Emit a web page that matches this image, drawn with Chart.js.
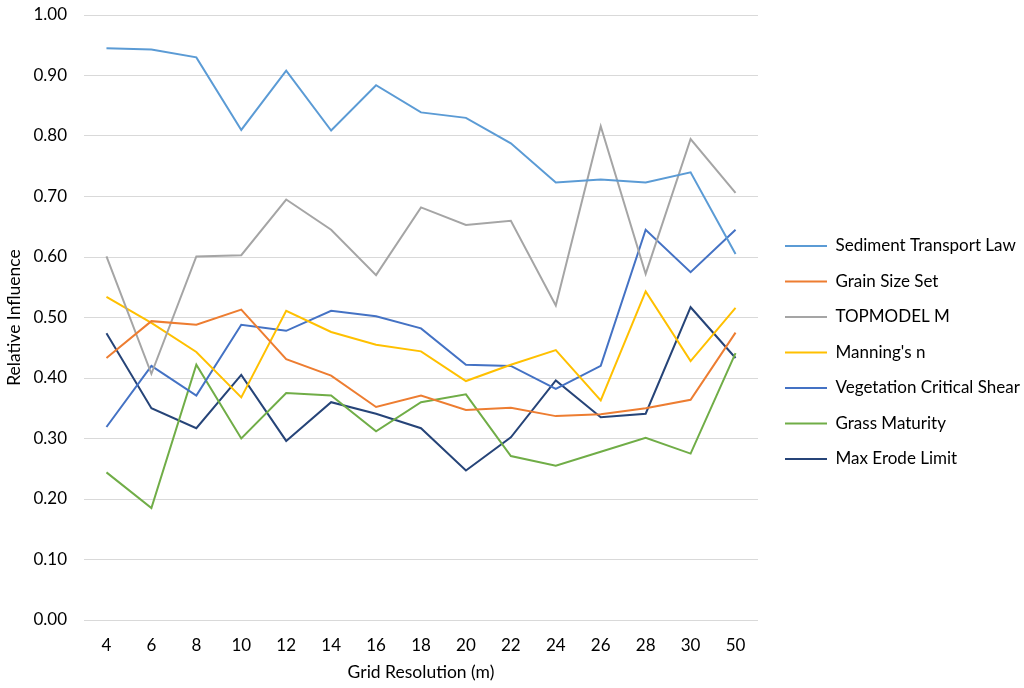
<!DOCTYPE html>
<html>
<head>
<meta charset="utf-8">
<script src="https://cdn.jsdelivr.net/npm/chart.js@4"></script>
<style>
  html, body { margin: 0; padding: 0; background: #fff; }
  #wrap { width: 1024px; height: 688px; }
</style>
</head>
<body>
<div id="wrap"><canvas id="myChart" width="1024" height="688"></canvas></div>
<script>
// grid resolutions (m)
const resolutions = ['4', '6', '8', '10', '12', '14', '16', '18', '20', '22', '24', '26', '28', '30', '50'];

const sedimentTransport = [0.945, 0.943, 0.930, 0.810, 0.908, 0.809, 0.884, 0.839, 0.830, 0.788, 0.723, 0.728, 0.723, 0.740, 0.605];
const grainSize = [0.433, 0.494, 0.488, 0.513, 0.431, 0.404, 0.352, 0.371, 0.347, 0.351, 0.337, 0.340, 0.350, 0.364, 0.475];
const topmodelM = [0.601, 0.407, 0.601, 0.603, 0.695, 0.645, 0.570, 0.682, 0.653, 0.660, 0.520, 0.816, 0.572, 0.795, 0.706];
const manningsN = [0.534, 0.491, 0.443, 0.368, 0.511, 0.476, 0.455, 0.444, 0.395, 0.422, 0.446, 0.363, 0.543, 0.428, 0.516];
const vegShear = [0.319, 0.420, 0.371, 0.488, 0.478, 0.511, 0.502, 0.482, 0.422, 0.420, 0.382, 0.420, 0.645, 0.575, 0.645];
const grassMaturity = [0.244, 0.185, 0.422, 0.300, 0.375, 0.371, 0.312, 0.360, 0.373, 0.271, 0.255, 0.278, 0.301, 0.275, 0.441];
const maxErode = [0.474, 0.350, 0.317, 0.405, 0.296, 0.360, 0.341, 0.317, 0.247, 0.302, 0.396, 0.335, 0.341, 0.517, 0.433];

const FONT = "Lato, 'Open Sans', sans-serif";

function series(label, data, color) {
    return {
        label: label,
        data: data,
        borderColor: color,
        backgroundColor: color,
        borderWidth: 2,
        pointRadius: 0,
        tension: 0
    };
}

// pin the legend column where the reference has it
const legendSpot = {
    id: 'legendSpot',
    beforeLayout(chart) {
        const lg = chart.legend;
        if (lg && !lg._spotFit) {
            const fit = lg.fit;
            lg.fit = function () { fit.call(this); this.width = 266; };
            lg._spotFit = true;
        }
    },
    afterLayout(chart) {
        chart.legend.left = 766.5;
        chart.legend.top = 219;
    }
};

var ctx = document.getElementById('myChart');
var myChart = new Chart(ctx, {
    type: 'line',
    data: {
        labels: resolutions,
        datasets: [
            series('Sediment Transport Law', sedimentTransport, '#5B9BD5'),
            series('Grain Size Set', grainSize, '#ED7D31'),
            series('TOPMODEL M', topmodelM, '#A5A5A5'),
            series("Manning's n", manningsN, '#FFC000'),
            series('Vegetation Critical Shear', vegShear, '#4472C4'),
            series('Grass Maturity', grassMaturity, '#70AD47'),
            series('Max Erode Limit', maxErode, '#264478')
        ]
    },
    options: {
        responsive: false,
        animation: false,
        layout: { padding: { top: 15, left: 0, right: 0, bottom: 0 } },
        plugins: {
            tooltip: { enabled: false },
            legend: {
                position: 'right',
                align: 'start',
                labels: {
                    usePointStyle: true,
                    pointStyle: 'line',
                    pointStyleWidth: 42,
                    padding: 18.5,
                    color: '#000',
                    font: { family: FONT, size: 17 }
                }
            }
        },
        scales: {
            x: {
                offset: true,
                grid: { display: false },
                border: { display: false },
                ticks: {
                    color: '#000',
                    padding: 7,
                    maxRotation: 0,
                    autoSkip: false,
                    font: { family: FONT, size: 17 }
                },
                title: {
                    display: true,
                    text: 'Grid Resolution (m)',
                    color: '#000',
                    padding: { top: 0, bottom: 5 },
                    font: { family: FONT, size: 17.5 }
                },
                afterFit(scale) { scale.height = 68; }
            },
            y: {
                min: 0,
                max: 1,
                grid: { color: '#D9D9D9', lineWidth: 1, drawTicks: false },
                border: { display: false },
                ticks: {
                    stepSize: 0.1,
                    color: '#000',
                    padding: 17,
                    font: { family: FONT, size: 17 },
                    callback: function (v) { return v.toFixed(2); }
                },
                title: {
                    display: true,
                    text: 'Relative Influence',
                    color: '#000',
                    padding: { top: 4, bottom: 0 },
                    font: { family: FONT, size: 17.5 }
                },
                afterFit(scale) {
                    scale.width = 84;
                    scale.paddingTop = 0;
                    scale.paddingBottom = 0;
                }
            }
        }
    },
    plugins: [legendSpot]
});
</script>
</body>
</html>
